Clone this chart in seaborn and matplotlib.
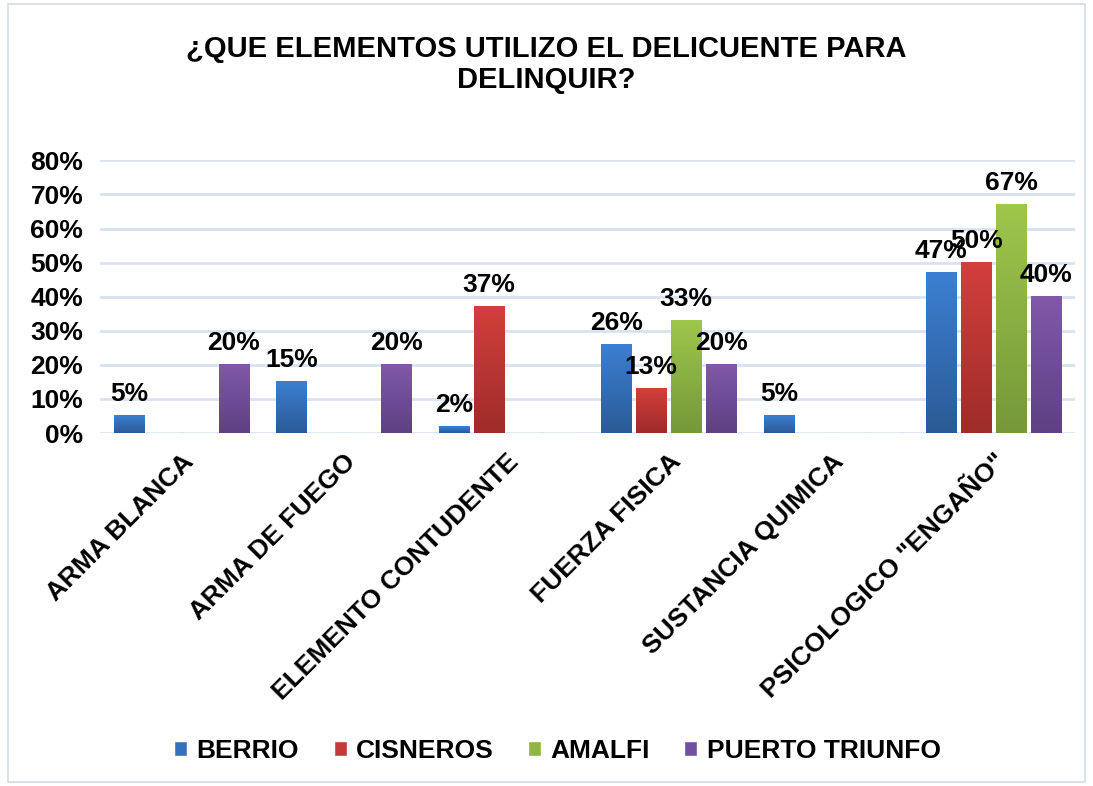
import matplotlib
matplotlib.use("Agg")
import matplotlib.pyplot as plt
import numpy as np
import pandas as pd
import seaborn as sns
from matplotlib.colors import LinearSegmentedColormap
from matplotlib.patches import Rectangle

CATEGORIES = ["ARMA BLANCA", "ARMA DE FUEGO", "ELEMENTO CONTUDENTE",
              "FUERZA FISICA", "SUSTANCIA QUIMICA", 'PSICOLOGICO "ENGAÑO"']
SERIES = ["BERRIO", "CISNEROS", "AMALFI", "PUERTO TRIUNFO"]
BERRIO = [5, 15, 2, 26, 5, 47]
CISNEROS = [0, 0, 37, 13, 0, 50]
AMALFI = [0, 0, 0, 33, 0, 67]
PUERTO_TRIUNFO = [20, 20, 0, 20, 0, 40]
COLORS = ["#3670bd", "#c23b38", "#8fb544", "#7150a0"]
TOP_COLORS = ["#3c7fd2", "#d23f3c", "#9ec64b", "#8059a9"]
BOTTOM_COLORS = ["#2b5b95", "#9e2c29", "#769839", "#5e4083"]
TITLE = "¿QUE ELEMENTOS UTILIZO EL DELICUENTE PARA\nDELINQUIR?"
FS = 19

rows = []
for name, vals in zip(SERIES, [BERRIO, CISNEROS, AMALFI, PUERTO_TRIUNFO]):
    for cat, v in zip(CATEGORIES, vals):
        rows.append({"categoria": cat, "municipio": name, "valor": v / 100})
df = pd.DataFrame(rows)

sns.set_style("white")
plt.rcParams["font.family"] = ["Liberation Sans", "DejaVu Sans"]
plt.rcParams["font.weight"] = "bold"
plt.rcParams["text.color"] = "black"

fig = plt.figure(figsize=(10.93, 7.86), dpi=100)
fig.patches.append(Rectangle((0.007, 0.005), 0.986, 0.99, transform=fig.transFigure,
                             fill=False, edgecolor="#d5dce6", linewidth=1.2))
ax = fig.add_axes([0.0915, 0.449, 0.892, 0.347])

sns.barplot(data=df, x="categoria", y="valor", hue="municipio", order=CATEGORIES,
            hue_order=SERIES, palette=COLORS, width=0.86, gap=0.14, saturation=1,
            ax=ax, legend=True)

# gradient fill like the original (darker at the bottom)
grad = np.linspace(0, 1, 100).reshape(-1, 1)
for container, top, bottom in zip(ax.containers, TOP_COLORS, BOTTOM_COLORS):
    cmap = LinearSegmentedColormap.from_list("g", [bottom, top])
    for rect in container:
        h = rect.get_height()
        if h <= 0:
            continue
        x, w = rect.get_x(), rect.get_width()
        ax.imshow(grad, extent=(x, x + w, 0, h), origin="lower", aspect="auto",
                  cmap=cmap, zorder=2)
        rect.set_alpha(0)

for container, vals in zip(ax.containers, [BERRIO, CISNEROS, AMALFI, PUERTO_TRIUNFO]):
    labels = [f"{v}%" if v > 0 else "" for v in vals]
    ax.bar_label(container, labels=labels, padding=7, fontsize=FS, fontweight="bold",
                 color="black", zorder=5)

ax.set_xlim(-0.5, len(CATEGORIES) - 0.5)
ax.set_ylim(0, 0.8)
ax.set_yticks([i / 10 for i in range(9)])
ax.set_yticklabels([f"{i * 10}%" for i in range(9)], fontsize=FS, fontweight="bold")
ax.yaxis.grid(True, color="#d8e2f0", linewidth=2)
ax.set_axisbelow(True)
for s in ax.spines.values():
    s.set_visible(False)
ax.tick_params(axis="both", length=0, pad=12, labelcolor="black")
ax.set_xlabel("")
ax.set_ylabel("")
ax.set_xticks(range(len(CATEGORIES)))
ax.set_xticklabels(CATEGORIES, rotation=45, ha="right", rotation_mode="anchor",
                   fontsize=FS, fontweight="bold")

fig.suptitle(TITLE, fontsize=21, fontweight="bold", y=0.956, color="black",
             linespacing=1.15)

handles, labs = ax.get_legend_handles_labels()
ax.legend_.remove()
fig.legend(handles, labs, loc="center", bbox_to_anchor=(0.51, 0.045), ncol=4, frameon=False,
           handlelength=0.5, handleheight=0.5, columnspacing=1.3, handletextpad=0.35,
           prop={"weight": "bold", "size": FS})

fig.savefig("out.png", dpi=100)
